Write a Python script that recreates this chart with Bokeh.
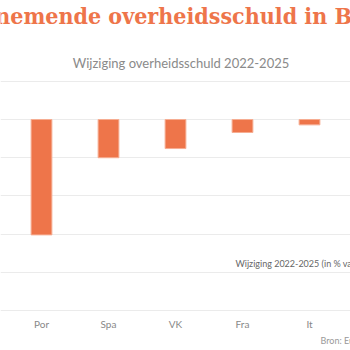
from bokeh.plotting import figure
from bokeh.models import Range1d, FixedTicker, Label, Title
from bokeh.embed import file_html
from bokeh.resources import INLINE

# Data (visible part of the chart)
countries = ["Por", "Spa", "VK", "Fra", "It"]
change = [-15.1, -5.0, -3.8, -1.7, -0.7]
grid_ticks = [5, 0, -5, -10, -15, -20, -25]

title_text = "Toenemende overheidsschuld in België"
subtitle_text = "Wijziging overheidsschuld 2022-2025"
note_text = "Wijziging 2022-2025 (in % van het bbp)"
source_text = "Bron: Europese Commissie"

orange = "#ee754a"
xs = list(range(len(countries)))

p = figure(width=350, height=350, output_backend="svg", toolbar_location=None,
           x_range=Range1d(-41/67, (350-41)/67), y_range=Range1d(-25.26, 15.58),
           min_border_left=0, min_border_right=0, min_border_top=0, min_border_bottom=38)
p.outline_line_color = None
p.background_fill_color = "white"
p.border_fill_color = "white"

p.yaxis.visible = False
p.xgrid.visible = False
p.ygrid.ticker = FixedTicker(ticks=grid_ticks)
p.ygrid.grid_line_color = "#ebebeb"
p.ygrid.grid_line_width = 1

p.xaxis.ticker = FixedTicker(ticks=xs)
p.xaxis.major_label_overrides = {i: c for i, c in zip(xs, countries)}
p.xaxis.axis_line_color = None
p.xaxis.major_tick_line_color = None
p.xaxis.minor_tick_line_color = None
p.xaxis.major_tick_out = 0
p.xaxis.major_tick_in = 0
p.xaxis.major_label_standoff = 5
p.xaxis.major_label_text_font = "Lato"
p.xaxis.major_label_text_font_size = "10px"
p.xaxis.major_label_text_color = "#888888"

src = Title(text=source_text, align="left", offset=320, text_font="Lato",
            text_font_size="9px", text_color="#999999", text_font_style="normal",
            standoff=0)
p.add_layout(src, "below")

p.vbar(x=xs, top=change, bottom=0, width=0.31, fill_color=orange,
       line_color="#f6ad92", line_width=1)

p.add_layout(Label(x=(-45-41)/67, y=13.6, text=title_text, text_font="DejaVu Serif Condensed",
                   text_font_style="bold", text_font_size="23px", text_color=orange,
                   text_baseline="middle", text_align="left"))
p.add_layout(Label(x=(180.5-41)/67, y=7.46, text=subtitle_text, text_font="Lato",
                   text_font_size="13px", text_color="#8a8a8a",
                   text_baseline="middle", text_align="center"))
p.add_layout(Label(x=(235-41)/67, y=-18.81, text=note_text, text_font="Lato",
                   text_font_size="9px", text_color="#666666",
                   text_baseline="middle", text_align="left"))

open("out.html", "w").write(file_html(p, INLINE))
